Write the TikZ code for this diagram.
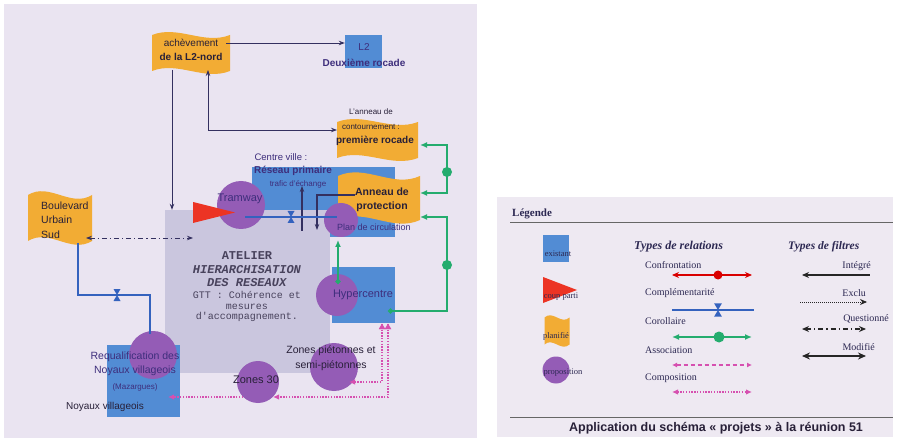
\documentclass[tikz,border=0pt]{standalone}
\usepackage{fontspec}
\setmainfont{Liberation Sans}
\newfontfamily\legrm{Liberation Serif}
\newfontfamily\atelmono{Liberation Mono}
\usetikzlibrary{arrows.meta}
\definecolor{bgleft}{RGB}{234,228,241}
\definecolor{bglegend}{RGB}{238,233,242}
\definecolor{exblue}{RGB}{82,140,212}
\definecolor{planorange}{RGB}{242,172,52}
\definecolor{propviolet}{RGB}{148,92,182}
\definecolor{coupred}{RGB}{236,52,36}
\definecolor{atelgray}{RGB}{202,198,222}
\definecolor{linknavy}{RGB}{52,48,96}
\definecolor{corgreen}{RGB}{36,172,110}
\definecolor{complblue}{RGB}{52,98,190}
\definecolor{asspink}{RGB}{214,80,176}
\definecolor{txtdark}{RGB}{40,32,56}
\definecolor{txtviolet}{RGB}{62,46,124}
\definecolor{legnavy}{RGB}{44,40,82}
\definecolor{atelink}{RGB}{72,66,92}
\newcommand\fsz[2]{\fontsize{#1}{#2}\selectfont}
% wavy "planifie" flag: centre x, centre y, width, height
\newcommand\flagshape[4]{%
  \fill[planorange] ({#1-#3/2},{#2-#4/2})
    .. controls ({#1-#3/6},{#2-#4/2-#4/3.5}) and ({#1+#3/6},{#2-#4/2+#4/3.5}) .. ({#1+#3/2},{#2-#4/2})
    -- ({#1+#3/2},{#2+#4/2})
    .. controls ({#1+#3/6},{#2+#4/2+#4/3.5}) and ({#1-#3/6},{#2+#4/2-#4/3.5}) .. ({#1-#3/2},{#2+#4/2})
    -- cycle;}
\tikzset{hglass/.pic={\fill[complblue] (-3.5,-6) -- (3.5,-6) -- (-3.5,6) -- (3.5,6) -- cycle;}}
\begin{document}
\begin{tikzpicture}[x=1pt,y=-1pt,
  lbl/.style={inner sep=0pt,align=center,text=txtdark},
  existbox/.style={rectangle,fill=exblue,inner sep=0pt},
  atelbox/.style={rectangle,fill=atelgray,inner sep=0pt},
  propo/.style={circle,fill=propviolet,inner sep=0pt},
  lien/.style={draw=linknavy,line width=0.9pt,-{Stealth[length=6pt,width=4.5pt]}},
  tipboth/.style={arrows={Stealth[length=6pt,width=4.5pt]-Stealth[length=6pt,width=4.5pt]}},
  compl/.style={draw=complblue,line width=1.2pt},
  corol/.style={draw=corgreen,line width=2.2pt},
  compo/.style={draw=asspink,line width=2pt,dash pattern=on 1.4pt off 1.4pt},
  pinktip/.style={-{Latex[length=6pt,width=5.5pt]}},
  legtxt/.style={inner sep=0pt,text=legnavy,font=\legrm\fsz{10}{12}},
  legsm/.style={inner sep=0pt,text=legnavy,font=\legrm\fsz{8.5}{10}},
  filtre/.style={draw=black!85,line width=1.2pt}]
\useasboundingbox (0,0) rectangle (898,441);
\fill[white] (0,0) rectangle (898,441);
% panels
\fill[bgleft] (4,4) rectangle (477,438);
\fill[bglegend] (497,197) rectangle (893,437);
% existing items and the workshop
\node[existbox,minimum width=143,minimum height=70] (cv) at (323.5,202) {};
\node[atelbox,minimum width=165,minimum height=163] (atel) at (247.5,291.5) {};
\node[existbox,minimum width=63,minimum height=56] (hyperbox) at (363.5,295) {};
\node[existbox,minimum width=73,minimum height=72] (noyaux) at (143.5,381) {};
\node[existbox,minimum width=37,minimum height=33] (l2) at (363.5,51.5) {};
% planned items
\flagshape{191}{53}{78}{36}
\flagshape{377.5}{140}{81}{36}
\flagshape{379}{198}{82}{44}
\flagshape{60}{218}{64}{46}
% proposals
\node[propo,minimum size=48] (tram) at (241,205) {};
\node[propo,minimum size=34] (plan) at (341,220) {};
\node[propo,minimum size=42] (hyper) at (337,295) {};
\node[propo,minimum size=48] (zpiet) at (334,367) {};
\node[propo,minimum size=42] (z30) at (258,382) {};
\node[propo,minimum size=48] (requal) at (153,355) {};
% coup parti
\fill[coupred] (193,202) -- (235,212.5) -- (193,223) -- cycle;
% labels
\node[lbl,font=\fsz{10}{14}] (achtxt) at (191,50) {achèvement\\\textbf{de la L2-nord}};
\node[lbl,font=\fsz{10}{16},text=txtviolet] (l2txt) at (364,55) {L2\\\textbf{Deuxième rocade}};
\node[lbl,font=\fsz{8}{15}] (rocnote) at (371,119) {L'anneau de\\contournement :};
\node[lbl,font=\bfseries\fsz{10}{12}] (roc) at (375,141) {première rocade};
\node[lbl,font=\fsz{9.5}{12},text=txtviolet] (cvtxt) at (281,157) {Centre ville :};
\node[lbl,font=\bfseries\fsz{10}{12},text=txtviolet] (respri) at (293,171) {Réseau primaire};
\node[lbl,font=\fsz{8}{10},text=txtviolet] (trafic) at (298,184) {trafic d'échange};
\node[lbl,font=\bfseries\fsz{10.5}{14}] (prot) at (382,200) {Anneau de\\protection};
\node[lbl,font=\fsz{11}{13},text=txtviolet] (tramtxt) at (240,199) {Tramway};
\node[lbl,font=\fsz{9}{11},text=txtviolet] (plantxt) at (374,227) {Plan de circulation};
\node[lbl,font=\fsz{11}{13},text=txtviolet] (hypertxt) at (363,295) {Hypercentre};
\node[lbl,font=\fsz{10.5}{15}] (zpiettxt) at (331,358) {Zones piétonnes et\\semi-piétonnes};
\node[lbl,font=\fsz{11}{13}] (z30txt) at (256,380) {Zones 30};
\node[lbl,font=\fsz{10.5}{13.5},text=txtviolet] (requaltxt) at (135,364) {Requalification des\\Noyaux villageois};
\node[lbl,font=\fsz{8}{10},text=txtviolet] (mazar) at (135,387) {(Mazargues)};
\node[lbl,font=\fsz{10}{12}] (noytxt) at (105,407) {Noyaux villageois};
\node[lbl,align=left,anchor=west,font=\fsz{10.5}{14.5}] (bustxt) at (41,220) {Boulevard\\Urbain\\Sud};
\node[lbl,font=\atelmono\bfseries\fsz{12}{13.5},text=atelink] (ateltitle) at (247,269.5)
  {ATELIER\\\textit{HIERARCHISATION}\\\textit{DES RESEAUX}};
\node[lbl,font=\atelmono\fsz{10}{10.5},text=atelink] (atelsub) at (247,306.5)
  {GTT : Cohérence et\\mesures\\d'accompagnement.};
% filters between planned items and the workshop
\coordinate (achE) at (226,43);
\draw[lien] (achE) -- (achE -| l2.west);
\coordinate (achS) at (172,70);
\draw[lien] (achS) -- (achS |- atel.north);
\coordinate (achB) at (208,70);
\coordinate (rocW) at (337,130);
\draw[lien,tipboth] (achB) |- (rocW);
\coordinate (trafB) at (302,231);
\coordinate (trafT) at (302,186);
\draw[lien,line width=2pt] (trafB) -- (trafT);
\coordinate (protW) at (355,195);
\coordinate (planN) at (317,230);
\draw[lien,line width=1.3pt] (protW) -| (planN);
\coordinate (busE) at (86,238);
\coordinate (atelW) at (193,238);
\draw[lien,tipboth,dash pattern=on 5pt off 3pt on 1.2pt off 3pt] (busE) -- (atelW);
% complementarity
\coordinate (tramR) at (245,217);
\coordinate (planL) at (337,217);
\draw[compl] (tramR) -- (planL);
\pic at (291,217) {hglass};
\coordinate (busS) at (78,243);
\coordinate (busBend) at (150,295);
\coordinate (requalN) at (150,334);
\draw[compl] (busS) |- (busBend) -- (requalN);
\pic at (117,295) {hglass};
% corollaries
\coordinate (hyperN) at (338,284);
\coordinate (planS) at (338,240);
\draw[corol,{Circle[length=5pt]}-{Latex[length=7pt,width=6pt]}] (hyperN) -- (planS);
\coordinate (hyperE) at (388,311);
\coordinate (protE) at (420,217);
\draw[corol,{Circle[length=5pt]}-{Latex[length=7pt,width=6pt]}] (hyperE) -| (447,264) |- (protE);
\fill[corgreen] (447,265) circle (5pt);
\coordinate (protNE) at (420,193);
\coordinate (rocE) at (420,145);
\draw[corol,{Latex[length=7pt,width=6pt]}-{Latex[length=7pt,width=6pt]}] (protNE) -| (447,170) |- (rocE);
\fill[corgreen] (447,172) circle (5pt);
% compositions
\coordinate (hyperS1) at (382,324);
\coordinate (zpietE) at (349,382);
\draw[compo,pinktip] (hyperS1) |- (zpietE);
\draw[asspink,fill=asspink] (hyperS1) -- ++(-3,5) -- ++(6,0) -- cycle;
\coordinate (hyperS2) at (388,324);
\coordinate (z30E) at (273,397);
\draw[compo,pinktip] (hyperS2) |- (z30E);
\draw[asspink,fill=asspink] (hyperS2) -- ++(-3,5) -- ++(6,0) -- cycle;
\coordinate (z30W) at (243,397);
\coordinate (noyE) at (168,397);
\draw[compo,pinktip] (z30W) -- (noyE);
% legend
\node[legtxt,font=\legrm\bfseries\fsz{11}{13},anchor=west] (legtitle) at (512,214) {Légende};
\draw[black!60,line width=0.8pt] (510,222) -- (893,222);
\draw[black!60,line width=0.8pt] (510,417) -- (893,417);
\node[lbl,font=\bfseries\fsz{12.5}{14}] (apptxt) at (716,428) {Application du schéma « projets » à la réunion 51};
\node[existbox,minimum width=26,minimum height=27] (legex) at (556,248.5) {};
\node[legsm] (legextxt) at (558,254) {existant};
\fill[coupred] (543,277) -- (577,290) -- (543,303) -- cycle;
\node[legsm] (legcptxt) at (561,297) {coup parti};
\flagshape{557}{331}{25}{27}
\node[legsm] (legpltxt) at (556,336) {planifié};
\node[propo,minimum size=27] (legpr) at (556,370) {};
\node[legsm] (legprtxt) at (563,373) {proposition};
\node[legtxt,font=\legrm\bfseries\itshape\fsz{12}{14},anchor=west] (relhead) at (634,247) {Types de relations};
\node[legtxt,font=\legrm\bfseries\itshape\fsz{11.5}{14},anchor=west] (filhead) at (788,247) {Types de filtres};
\foreach \lab [count=\i] in {Confrontation, Complémentarité, Corollaire, Association, Composition}
  \node[legtxt,anchor=west] (rel\i) at (645,{265+28.25*(\i-1)}) {\lab};
\draw[draw=red!85!black,line width=1.3pt,arrows={Stealth[length=7pt,width=6pt]-Stealth[length=7pt,width=6pt]}] (672,275) -- (752,275);
\fill[red!85!black] (718,275) circle (4.5pt);
\draw[compl] (672,310) -- (754,310);
\pic[scale=1.1] at (718,310) {hglass};
\draw[corol,arrows={Latex[length=7pt,width=6pt]-Latex[length=7pt,width=6pt]}] (672,337) -- (752,337);
\fill[corgreen] (719,337) circle (5.5pt);
\draw[asspink,line width=1.1pt,dash pattern=on 4pt off 3pt,arrows={Latex[length=5pt,width=5pt]-Latex[length=5pt,width=5pt]}] (672,365) -- (752,365);
\draw[compo,arrows={Latex[length=6pt,width=5.5pt]-Latex[length=6pt,width=5.5pt]}] (672,392) -- (752,392);
\node[legtxt,anchor=east] (filint) at (871,266) {Intégré};
\node[legtxt,anchor=east] (filexc) at (866,293) {Exclu};
\node[legtxt,anchor=east] (filque) at (889,319) {Questionné};
\node[legtxt,anchor=east] (filmod) at (875,347) {Modifié};
\draw[filtre,{Stealth[length=7pt,width=6pt]}-] (802,275) -- (870,275);
\draw[filtre,line width=0.8pt,dash pattern=on 1pt off 1pt,-{Stealth[length=7pt,width=6pt]}] (800,302) -- (867,302);
\draw[filtre,dash pattern=on 5pt off 3pt on 1.2pt off 3pt,arrows={Stealth[length=7pt,width=6pt]-Stealth[length=7pt,width=6pt]}] (802,329) -- (866,329);
\draw[filtre,line width=2.4pt,arrows={Stealth[length=8pt,width=7pt]-Stealth[length=8pt,width=7pt]}] (802,356) -- (866,356);
\end{tikzpicture}
\end{document}
